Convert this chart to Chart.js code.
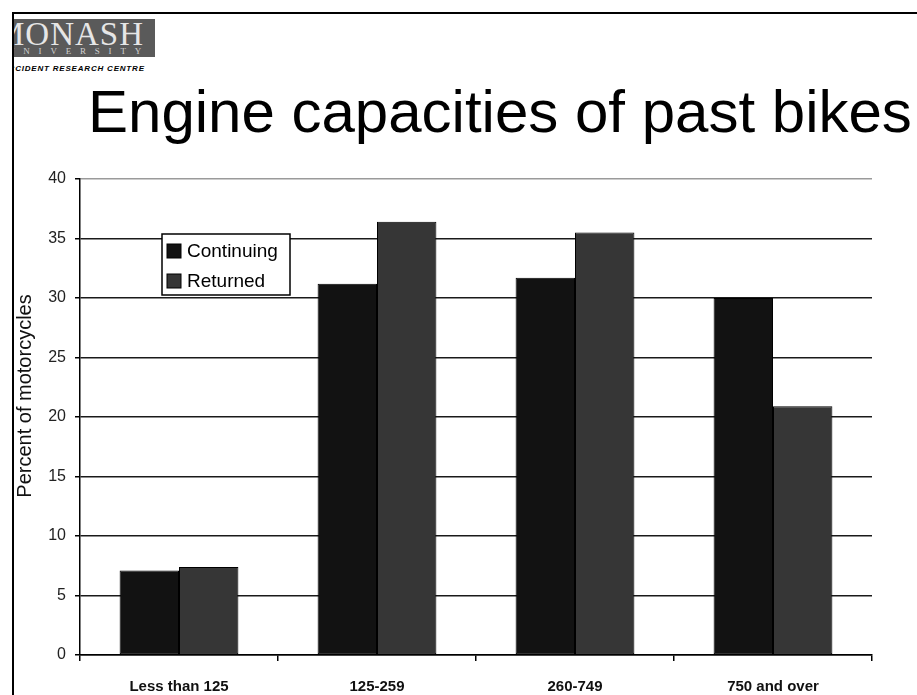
<!DOCTYPE html>
<html>
<head>
<meta charset="utf-8">
<script src="https://cdn.jsdelivr.net/npm/chart.js@4"></script>
<style>
    body { margin: 0; background: #fff; width: 917px; height: 695px; overflow: hidden; position: relative; font-family: "Liberation Sans", Arial, sans-serif; }
    #frame { position: absolute; left: 12px; top: 12px; width: 905px; height: 683px; border-left: 2px solid #000; border-top: 2px solid #000; }
    #logo { position: absolute; left: 14px; top: 19px; width: 141px; height: 38px; background: #5a5a5a; overflow: hidden; }
    #logo .big { position: absolute; left: -19px; top: -1px; font: 33px/33px "Liberation Serif", serif; color: #e6e6e6; letter-spacing: 1px; white-space: nowrap; }
    #logo .small { position: absolute; left: -6px; top: 28px; font: 9px/9px "Liberation Serif", serif; color: #d0d0d0; letter-spacing: 8.8px; white-space: nowrap; }
    #centre { position: absolute; left: 14px; top: 64px; width: 133px; height: 9px; overflow: hidden; white-space: nowrap; font: italic bold 8px/9px "Liberation Sans", Arial, sans-serif; }
    #centre span { position: relative; left: -12px; color: #000; letter-spacing: 0.8px; }
    #title { position: absolute; left: 88px; top: 82px; font: 60px/60px "Liberation Sans", Arial, sans-serif; color: #000; white-space: nowrap; }
    #chart { position: absolute; left: 0; top: 0; }
</style>
</head>
<body>
<div id="frame"></div>
<div id="logo"><div class="big">MONASH</div><div class="small">UNIVERSITY</div></div>
<div id="centre"><span>ACCIDENT RESEARCH CENTRE</span></div>
<div id="title">Engine capacities of past bikes</div>
<canvas id="chart" width="917" height="695"></canvas>
<script>
    const categories = ['Less than 125', '125-259', '260-749', '750 and over'];
    const continuing = [7.1, 31.2, 31.7, 30.0];
    const returned = [7.4, 36.4, 35.5, 20.9];
    const seriesNames = ['Continuing', 'Returned'];
    const yTicks = [0, 5, 10, 15, 20, 25, 30, 35, 40];
    const yTitle = 'Percent of motorcycles';

    const font = '"Liberation Sans", Arial, sans-serif';

    // legend box inside the plot and the y title, placed like the old Excel chart
    const extras = {
        id: 'extras',
        afterDatasetsDraw(chart) {
            const ctx = chart.ctx;
            const x = 162, y = 234, w = 128, h = 61;
            ctx.save();
            ctx.fillStyle = '#fff';
            ctx.fillRect(x, y, w, h);
            ctx.strokeStyle = '#000';
            ctx.lineWidth = 1.5;
            ctx.strokeRect(x, y, w, h);
            ctx.font = '19px ' + font;
            ctx.textBaseline = 'middle';
            chart.data.datasets.forEach((ds, i) => {
                const cy = y + 17 + i * 30;
                ctx.fillStyle = ds.backgroundColor;
                ctx.fillRect(x + 5, cy - 7, 14, 14);
                ctx.strokeStyle = '#000';
                ctx.lineWidth = 1;
                ctx.strokeRect(x + 5, cy - 7, 14, 14);
                ctx.fillStyle = '#000';
                ctx.fillText(ds.label, x + 25, cy + 1);
            });
            ctx.restore();

            ctx.save();
            ctx.translate(25, 396);
            ctx.rotate(-Math.PI / 2);
            ctx.font = '20px ' + font;
            ctx.fillStyle = '#111';
            ctx.textAlign = 'center';
            ctx.textBaseline = 'middle';
            ctx.fillText(yTitle, 0, 0);
            ctx.restore();
        }
    };

    const ctx = document.getElementById('chart').getContext('2d');
    new Chart(ctx, {
        type: 'bar',
        data: {
            labels: categories,
            datasets: [
                { label: seriesNames[0], data: continuing, backgroundColor: '#121212', borderColor: '#000', borderWidth: 1, borderSkipped: false },
                { label: seriesNames[1], data: returned, backgroundColor: '#363636', borderColor: '#000', borderWidth: 1, borderSkipped: false }
            ]
        },
        options: {
            responsive: false,
            animation: false,
            layout: { padding: { left: 14, top: 179, right: 45, bottom: 0 } },
            datasets: { bar: { categoryPercentage: 0.6, barPercentage: 1 } },
            plugins: {
                legend: { display: false },
                tooltip: { enabled: false },
                title: { display: false }
            },
            scales: {
                x: {
                    afterFit(scale) { scale.height = 40; },
                    grid: {
                        offset: true,
                        drawOnChartArea: true,
                        color: (c) => c.index === categories.length ? '#9a9a9a' : 'rgba(0,0,0,0)',
                        tickColor: '#000',
                        tickLength: 6,
                        lineWidth: 1.5
                    },
                    border: { color: '#000', width: 1.5 },
                    ticks: { color: '#111', padding: 17, font: { family: font, size: 15, weight: 'bold' } }
                },
                y: {
                    min: 0,
                    max: 40,
                    afterFit(scale) { scale.width = 66; },
                    afterBuildTicks(scale) { scale.ticks = yTicks.map(v => ({ value: v })); },
                    grid: {
                        color: (c) => c.tick && c.tick.value === 40 ? '#9a9a9a' : '#1a1a1a',
                        tickColor: '#000',
                        tickLength: 5,
                        lineWidth: 1.5
                    },
                    border: { color: '#000', width: 1.5 },
                    ticks: { color: '#222', padding: 9, font: { family: font, size: 16 } }
                }
            }
        },
        plugins: [extras]
    });
</script>
</body>
</html>
